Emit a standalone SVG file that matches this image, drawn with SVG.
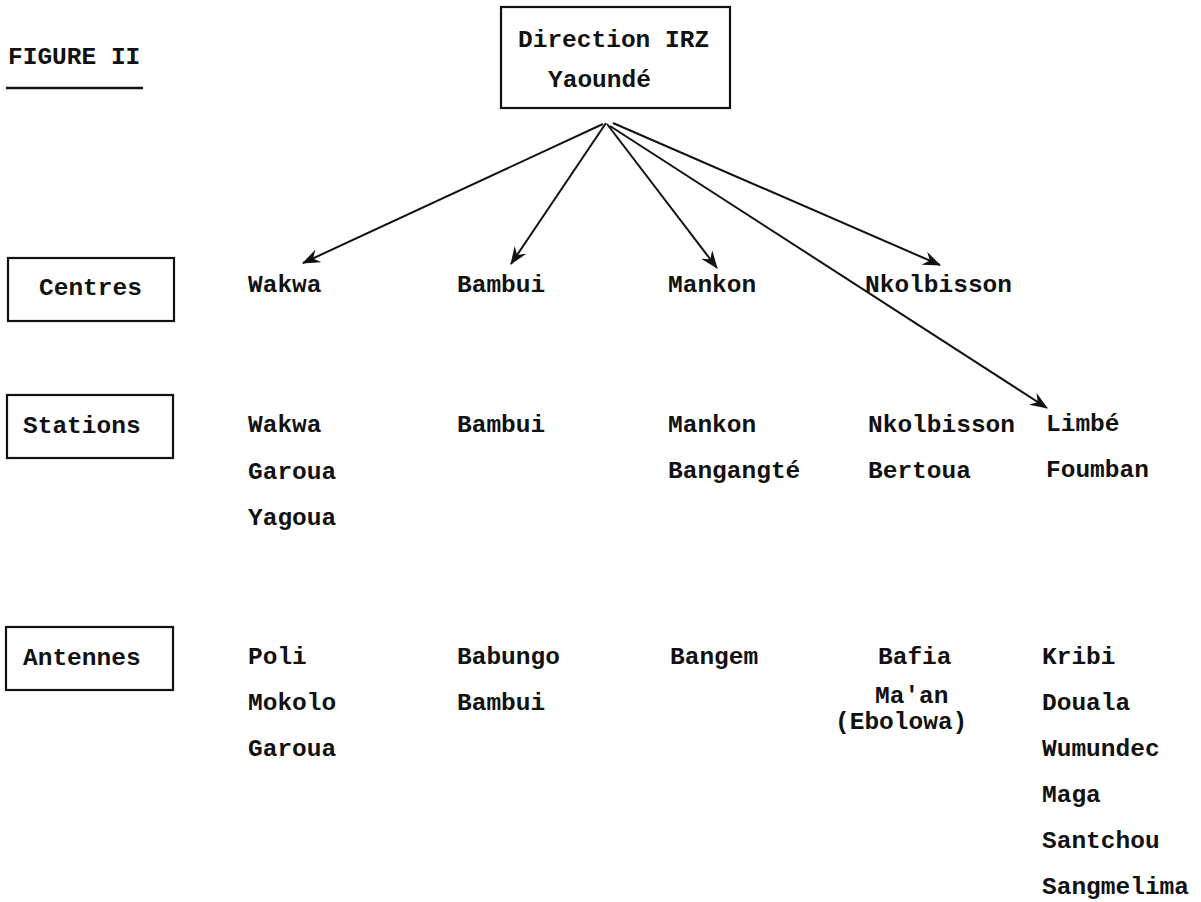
<svg xmlns="http://www.w3.org/2000/svg" width="1201" height="902" viewBox="0 0 1201 902">
  <style>
    text { font-family: "Liberation Mono", "DejaVu Sans Mono", monospace; font-size: 24.5px; font-weight: bold; fill: #111; }
    .box { fill: none; stroke: #111; stroke-width: 2.2; }
    .conn { stroke: #111; stroke-width: 2; fill: none; marker-end: url(#arrow); }
  </style>
  <defs>
    <marker id="arrow" markerUnits="userSpaceOnUse" viewBox="0 0 18 14" refX="17" refY="7" markerWidth="18" markerHeight="14" orient="auto">
      <path d="M0,0 L18,7 L0,14 L6,7 z" fill="#111"/>
    </marker>
  </defs>
  <rect width="1201" height="902" fill="#fff"/>

  <g id="title">
    <text x="8" y="64">FIGURE II</text>
    <line x1="6" y1="88" x2="143" y2="88" stroke="#111" stroke-width="2.5"/>
  </g>

  <g id="direction">
    <rect class="box" x="501" y="7" width="229" height="101"/>
    <text x="518" y="47">Direction IRZ</text>
    <text x="548" y="87">Yaoundé</text>
  </g>

  <g id="connectors">
    <line class="conn" x1="603" y1="124" x2="303" y2="263"/>
    <line class="conn" x1="606" y1="123" x2="511" y2="264"/>
    <line class="conn" x1="607" y1="124" x2="717" y2="268"/>
    <line class="conn" x1="613" y1="123" x2="940" y2="265"/>
    <line class="conn" x1="610" y1="126" x2="1047" y2="408"/>
  </g>

  <g id="label-centres">
    <rect class="box" x="8" y="258" width="166" height="63"/>
    <text x="39" y="295">Centres</text>
  </g>
  <g id="label-stations">
    <rect class="box" x="7" y="395" width="166" height="63"/>
    <text x="23" y="433">Stations</text>
  </g>
  <g id="label-antennes">
    <rect class="box" x="6" y="627" width="167" height="63"/>
    <text x="23" y="665">Antennes</text>
  </g>

  <g id="centre-wakwa"><text x="248" y="292">Wakwa</text></g>
  <g id="centre-bambui"><text x="457" y="292">Bambui</text></g>
  <g id="centre-mankon"><text x="668" y="292">Mankon</text></g>
  <g id="centre-nkolbisson"><text x="865" y="292">Nkolbisson</text></g>

  <g id="stations-wakwa">
    <text x="248" y="432">Wakwa</text>
    <text x="248" y="479">Garoua</text>
    <text x="248" y="525">Yagoua</text>
  </g>
  <g id="stations-bambui">
    <text x="457" y="432">Bambui</text>
  </g>
  <g id="stations-mankon">
    <text x="668" y="432">Mankon</text>
    <text x="668" y="478">Bangangté</text>
  </g>
  <g id="stations-nkolbisson">
    <text x="868" y="432">Nkolbisson</text>
    <text x="868" y="478">Bertoua</text>
  </g>
  <g id="stations-limbe">
    <text x="1046" y="431">Limbé</text>
    <text x="1046" y="477">Foumban</text>
  </g>

  <g id="antennes-wakwa">
    <text x="248" y="664">Poli</text>
    <text x="248" y="710">Mokolo</text>
    <text x="248" y="756">Garoua</text>
  </g>
  <g id="antennes-bambui">
    <text x="457" y="664">Babungo</text>
    <text x="457" y="710">Bambui</text>
  </g>
  <g id="antennes-mankon">
    <text x="670" y="664">Bangem</text>
  </g>
  <g id="antennes-nkolbisson">
    <text x="878" y="664">Bafia</text>
    <text x="875" y="703">Ma'an</text>
    <text x="835" y="729">(Ebolowa)</text>
  </g>
  <g id="antennes-limbe">
    <text x="1042" y="664">Kribi</text>
    <text x="1042" y="710">Douala</text>
    <text x="1042" y="756">Wumundec</text>
    <text x="1042" y="802">Maga</text>
    <text x="1042" y="848">Santchou</text>
    <text x="1042" y="894">Sangmelima</text>
  </g>
</svg>
